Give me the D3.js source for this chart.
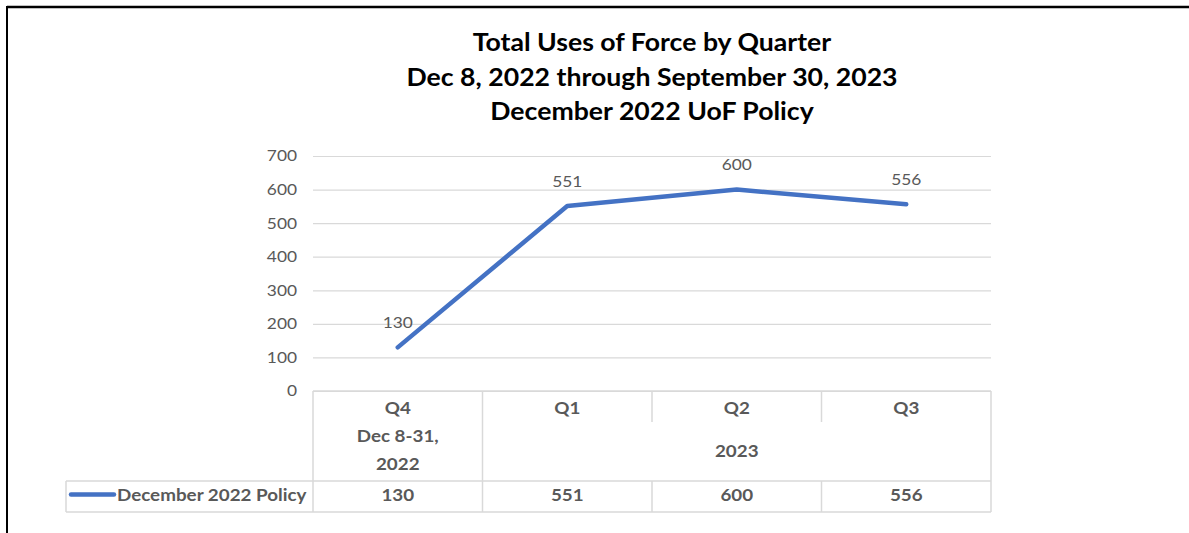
<!DOCTYPE html>
<html>
<head>
<meta charset="utf-8">
<script src="https://cdn.jsdelivr.net/npm/d3@7"></script>
<style>
  html, body { margin: 0; padding: 0; background: #fff; }
  svg { display: block; font-family: Lato, "Open Sans", sans-serif; }
</style>
</head>
<body>
<div id="chart"></div>
<script>
// chart data
var titleLines = ["Total Uses of Force by Quarter", "Dec 8, 2022 through September 30, 2023", "December 2022 UoF Policy"];
var quarters = ["Q4", "Q1", "Q2", "Q3"];
var groupLabels = [["Dec 8-31,", "2022"], ["2023"]];
var groupSpans = [1, 3];
var seriesName = "December 2022 Policy";
var values = [130, 551, 600, 556];
var yTicks = [0, 100, 200, 300, 400, 500, 600, 700];

var width = 1189, height = 533;
var plot = { left: 313, right: 991, top: 156, bottom: 391 };
var rows = { quarter: 422, group: 481, value: 512 };
var legendLeft = 66;
var grid = "#d9d9d9", textGray = "#595959", blue = "#4472c4";
var sx = 1.12; // the original text is a little wider than Lato

var svg = d3.select('#chart').append('svg')
  .attr('width', width)
  .attr('height', height);

// place a text at (x, y), stretched horizontally
function place(sel, fx, fy) {
  return sel.attr('transform', function (d, i) {
    var px = typeof fx === 'function' ? fx(d, i) : fx;
    var py = typeof fy === 'function' ? fy(d, i) : fy;
    return 'translate(' + px + ',' + py + ') scale(' + sx + ',1)';
  });
}

// frame (top and left edge only)
svg.append('line').attr('x1', 7).attr('x2', width).attr('y1', 7).attr('y2', 7)
  .attr('stroke', '#000').attr('stroke-width', 2.5);
svg.append('line').attr('x1', 7).attr('x2', 7).attr('y1', 6).attr('y2', height)
  .attr('stroke', '#000').attr('stroke-width', 2);

// title
svg.append('g').selectAll('text')
  .data(titleLines)
  .enter()
  .append('text')
  .call(place, 652, function (_, i) { return 51 + i * 34.5; })
  .attr('text-anchor', 'middle')
  .attr('font-size', 23.8)
  .attr('font-weight', 'bold')
  .attr('fill', '#000')
  .text(function (d) { return d; });

var x = d3.scaleBand()
  .domain(d3.range(quarters.length))
  .range([plot.left, plot.right])
  .padding(0);

var y = d3.scaleLinear()
  .domain([0, 700])
  .range([plot.bottom, plot.top]);

// gridlines + y axis
var yAxis = d3.axisLeft(y)
  .tickValues(yTicks)
  .tickSize(-(plot.right - plot.left))
  .tickPadding(16);

var yg = svg.append('g')
  .attr('transform', 'translate(' + plot.left + ',0)')
  .call(yAxis);
yg.select('.domain').remove();
yg.selectAll('.tick line').attr('stroke', grid).attr('stroke-width', 1.2);
yg.selectAll('.tick text')
  .attr('x', 0)
  .attr('transform', 'translate(-16,0) scale(' + sx + ',1)')
  .attr('fill', textGray)
  .attr('font-size', 15.5)
  .attr('font-family', 'Lato, sans-serif');

// data table
var table = svg.append('g').attr('class', 'dataTable');
var lineAttr = function (sel) { return sel.attr('stroke', grid).attr('stroke-width', 1.5); };

// horizontal rules
table.append('line').call(lineAttr)
  .attr('x1', plot.left).attr('x2', plot.right).attr('y1', plot.bottom).attr('y2', plot.bottom);
table.append('line').call(lineAttr)
  .attr('x1', legendLeft).attr('x2', plot.right).attr('y1', rows.group).attr('y2', rows.group);
table.append('line').call(lineAttr)
  .attr('x1', legendLeft).attr('x2', plot.right).attr('y1', rows.value).attr('y2', rows.value);
table.append('line').call(lineAttr)
  .attr('x1', legendLeft).attr('x2', legendLeft).attr('y1', rows.group).attr('y2', rows.value);

// vertical rules between categories
var bounds = d3.range(quarters.length + 1).map(function (i) {
  return i < quarters.length ? x(i) : x(i - 1) + x.bandwidth();
});
var groupEdges = [0];
groupSpans.forEach(function (s, i) { groupEdges.push(groupEdges[i] + s); });

table.selectAll('.vrule')
  .data(bounds)
  .enter()
  .append('line')
  .call(lineAttr)
  .attr('class', 'vrule')
  .attr('x1', function (d) { return d; })
  .attr('x2', function (d) { return d; })
  .attr('y1', plot.bottom)
  .attr('y2', function (_, i) {
    return groupEdges.indexOf(i) >= 0 ? rows.value : rows.quarter;
  });
// value row separators inside groups
table.selectAll('.vrule2')
  .data(bounds.filter(function (_, i) { return groupEdges.indexOf(i) < 0; }))
  .enter()
  .append('line')
  .call(lineAttr)
  .attr('x1', function (d) { return d; })
  .attr('x2', function (d) { return d; })
  .attr('y1', rows.group)
  .attr('y2', rows.value);

var cellText = function (sel) {
  return sel.attr('text-anchor', 'middle')
    .attr('font-size', 16.8)
    .attr('font-weight', 'bold')
    .attr('fill', textGray);
};

table.selectAll('.qLabel')
  .data(quarters)
  .enter()
  .append('text')
  .call(cellText)
  .call(place, function (_, i) { return x(i) + x.bandwidth() / 2; }, 414)
  .text(function (d) { return d; });

groupLabels.forEach(function (lines, g) {
  var cx = (bounds[groupEdges[g]] + bounds[groupEdges[g + 1]]) / 2;
  var startY = lines.length > 1 ? 442 : 457;
  table.selectAll('.gLabel' + g)
    .data(lines)
    .enter()
    .append('text')
    .call(cellText)
    .call(place, cx, function (_, i) { return startY + i * 27.5; })
    .text(function (d) { return d; });
});

table.selectAll('.vLabel')
  .data(values)
  .enter()
  .append('text')
  .call(cellText)
  .call(place, function (_, i) { return x(i) + x.bandwidth() / 2; }, 501)
  .text(function (d) { return d; });

// legend key inside table
table.append('line')
  .attr('x1', 71).attr('x2', 114).attr('y1', 494.5).attr('y2', 494.5)
  .attr('stroke', blue).attr('stroke-width', 4.5).attr('stroke-linecap', 'round');
table.append('text')
  .call(cellText)
  .attr('text-anchor', 'start')
  .call(place, 117, 501)
  .text(seriesName);

// series line
var line = d3.line()
  .x(function (_, i) { return x(i) + x.bandwidth() / 2; })
  .y(function (d) { return y(d); });

svg.append('path')
  .datum(values)
  .attr('d', line)
  .attr('fill', 'none')
  .attr('stroke', blue)
  .attr('stroke-width', 4.5)
  .attr('stroke-linecap', 'round')
  .attr('stroke-linejoin', 'round');

// data labels
svg.append('g').selectAll('text')
  .data(values)
  .enter()
  .append('text')
  .call(place, function (_, i) { return x(i) + x.bandwidth() / 2; }, function (d) { return y(d) - 19.5; })
  .attr('text-anchor', 'middle')
  .attr('font-size', 15.5)
  .attr('fill', textGray)
  .text(function (d) { return d; });
</script>
</body>
</html>
